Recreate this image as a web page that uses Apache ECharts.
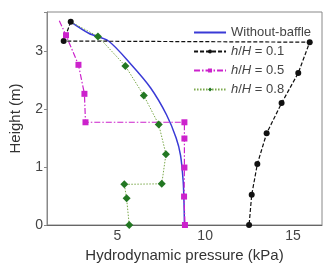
<!DOCTYPE html>
<html>
<head>
<meta charset="utf-8">
<script src="https://cdn.jsdelivr.net/npm/echarts@6/dist/echarts.min.js"></script>
<style>
  html, body { margin: 0; padding: 0; background: #fff; }
  #main { width: 325px; height: 268px; }
</style>
</head>
<body>
<div id="main"></div>
<script>
// 数据 [pressure kPa, height m]
var withoutBaffle = [[2.35, 3.5], [3.4, 3.3], [4.5, 3.17], [5.8, 2.76], [6.9, 2.36], [7.8, 1.9], [8.35, 1.5], [8.6, 1.2], [8.75, 0.75], [8.8, 0.35], [8.82, 0]];
var h01 = [[2.35, 3.5], [1.95, 3.17], [15.95, 3.15], [15.3, 2.62], [14.35, 2.1], [13.5, 1.58], [12.97, 1.05], [12.65, 0.52], [12.5, 0]];
var h05 = [[1.7, 3.52], [2.08, 3.27], [2.79, 2.76], [3.13, 2.26], [3.19, 1.77], [8.82, 1.77], [8.82, 1.49], [8.82, 0.99], [8.8, 0.49], [8.85, 0]];
var h08 = [[2.35, 3.5], [3.9, 3.25], [5.46, 2.74], [6.51, 2.23], [7.36, 1.73], [7.77, 1.22], [7.53, 0.71], [5.4, 0.7], [5.53, 0.46], [5.68, 0]];
var h05NoMark = [0];   // 首点不画标记
var h08NoMark = [0];
var xTicks = [5, 10, 15];
var yTicks = [0, 1, 2, 3];

function withMarks(arr, skip) {
  return arr.map(function (p, i) {
    if (skip.indexOf(i) >= 0) return { value: p, symbol: "none" };
    return p;
  });
}

var myChart = echarts.init(document.getElementById("main"));
var font = "Liberation Sans, Arial, sans-serif";
var legendRich = {
  it: { fontStyle: "italic", fontSize: 13, color: "#444", fontFamily: font },
  n: { fontSize: 13, color: "#444", fontFamily: font }
};

myChart.setOption({
  animation: false,
  grid: {
    left: 40,
    right: 2,
    top: 12,
    bottom: 36,
    show: true,
    borderColor: "#888",
    borderWidth: 1
  },
  legend: {
    right: 9,
    top: 21,
    orient: "vertical",
    itemWidth: 32,
    itemHeight: 5,
    itemGap: 6,
    data: [
      { name: "Without-baffle", itemStyle: { opacity: 0 } },
      "h/H = 0.1",
      "h/H = 0.5",
      "h/H = 0.8"
    ],
    textStyle: { fontSize: 13, color: "#444", fontFamily: font, rich: legendRich },
    formatter: function (name) {
      if (name.indexOf("h/H") === 0) {
        return "{it|h}{n|/}{it|H}{n| = " + name.split("= ")[1] + "}";
      }
      return name;
    }
  },
  xAxis: {
    type: "value",
    min: 1,
    max: 16.65,
    interval: 1,
    name: "Hydrodynamic pressure (kPa)",
    nameLocation: "middle",
    nameGap: 23,
    nameTextStyle: { fontSize: 15, color: "#333", fontFamily: font },
    axisLine: { show: true, lineStyle: { color: "#666" } },
    axisTick: { show: false },
    splitLine: { show: false },
    axisLabel: {
      fontSize: 14,
      color: "#444",
      fontFamily: font,
      margin: 4,
      formatter: function (v) {
        return xTicks.indexOf(v) >= 0 ? String(v) : "";
      }
    }
  },
  yAxis: {
    type: "value",
    min: 0,
    max: 3.67,
    interval: 1,
    name: "Height (m)",
    nameLocation: "middle",
    nameGap: 24,
    nameTextStyle: { fontSize: 15, color: "#333", fontFamily: font },
    axisLine: { show: true, lineStyle: { color: "#888" } },
    axisTick: { show: true, length: 3, lineStyle: { color: "#888" } },
    splitLine: { show: false },
    axisLabel: {
      fontSize: 14,
      color: "#444",
      fontFamily: font,
      margin: 4,
      formatter: function (v) {
        return yTicks.indexOf(v) >= 0 ? String(v) : "";
      }
    }
  },
  series: [
    {
      name: "Without-baffle",
      type: "line",
      data: withoutBaffle,
      smooth: 0.3,
      symbol: "none",
      color: "#3a3ad6",
      lineStyle: { width: 1.5, color: "#3a3ad6" },
      z: 3
    },
    {
      name: "h/H = 0.1",
      type: "line",
      data: h01,
      symbol: "circle",
      symbolSize: 6,
      color: "#111",
      lineStyle: { width: 1.2, type: [4, 2], color: "#111" },
      itemStyle: { color: "#111" }
    },
    {
      name: "h/H = 0.5",
      type: "line",
      data: withMarks(h05, h05NoMark),
      symbol: "rect",
      symbolSize: 6,
      color: "#cc22cc",
      lineStyle: { width: 1.2, type: [6, 2, 1.5, 2], color: "#cc22cc" },
      itemStyle: { color: "#cc22cc" }
    },
    {
      name: "h/H = 0.8",
      type: "line",
      data: withMarks(h08, h08NoMark),
      symbol: "diamond",
      symbolSize: 8,
      color: "#227722",
      lineStyle: { width: 1, type: [1.5, 1.5], color: "#7aa84a" },
      itemStyle: { color: "#227722" }
    }
  ]
});
</script>
</body>
</html>
